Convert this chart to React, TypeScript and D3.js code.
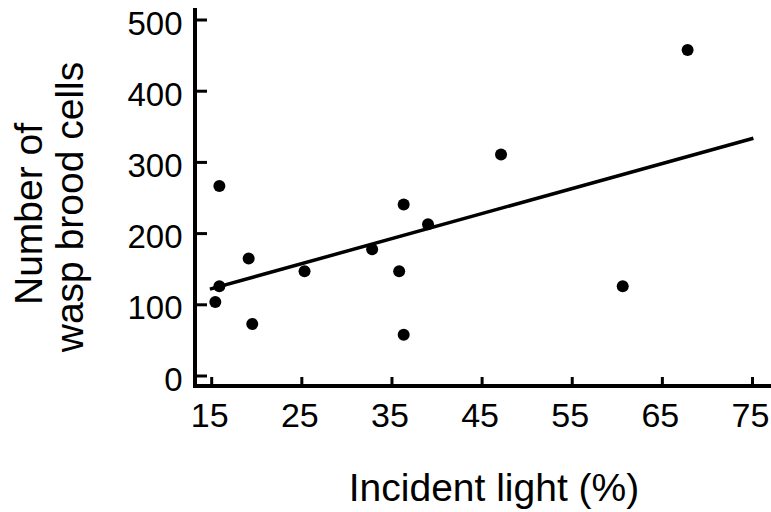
import * as d3 from "d3";

// incident light (%) and wasp brood cell counts, one per nest
const lightPct = [15.4, 15.85, 15.85, 19.1, 19.5, 25.3, 32.8, 35.8, 36.3, 36.3, 39.0, 47.1, 60.6, 67.8];
const broodCells = [104, 267, 126, 165, 73, 147, 178, 147, 241, 58, 213, 311, 126, 458];

// fitted regression line at its two ends
const trendX = [14.8, 75.1];
const trendY = [122, 334];

const xTicks = [15, 25, 35, 45, 55, 65, 75];
const yTicks = [0, 100, 200, 300, 400, 500];

const xTitle = "Incident light (%)";
const yTitle = ["Number of", "wasp brood cells"];

const width = 771;
const height = 512;
const font = "'Liberation Sans', Arial, Helvetica, sans-serif";

export default function App() {
  const x = d3.scaleLinear().domain([15, 75]).range([211.7, 752.5]);
  const y = d3.scaleLinear().domain([0, 500]).range([376, 20]);

  const axisX = 195; // vertical axis position
  const axisY = 386; // horizontal axis position

  const points = lightPct.map((v, i) => ({ x: v, y: broodCells[i] }));
  const trend = trendX.map((v, i) => [x(v), y(trendY[i])] as [number, number]);
  const line = d3.line();

  return (
    <svg
      width={width}
      height={height}
      style={{ position: "absolute", left: 0, top: 0, background: "#fff", fontFamily: font }}
    >
      {/* axes */}
      <line x1={axisX} x2={axisX} y1={8} y2={axisY + 2} stroke="#000" strokeWidth={4} />
      <line x1={axisX - 2} x2={width} y1={axisY} y2={axisY} stroke="#000" strokeWidth={4} />

      {yTicks.map((t) => (
        <g key={"y" + t}>
          <line x1={axisX} x2={axisX + 12} y1={y(t)} y2={y(t)} stroke="#000" strokeWidth={3} />
          <text
            x={182.5}
            y={y(t) + 3}
            textAnchor="end"
            dominantBaseline="central"
            fontSize={33}
            fill="#000"
          >
            {t}
          </text>
        </g>
      ))}

      {xTicks.map((t) => (
        <g key={"x" + t}>
          <line x1={x(t)} x2={x(t)} y1={axisY} y2={axisY - 9} stroke="#000" strokeWidth={3} />
          <text x={x(t) - 2} y={427} textAnchor="middle" fontSize={34} fill="#000">
            {t}
          </text>
        </g>
      ))}

      {/* regression line */}
      <path d={line(trend) || ""} fill="none" stroke="#000" strokeWidth={3.5} />

      {/* data points */}
      {points.map((p, i) => (
        <circle key={i} cx={x(p.x)} cy={y(p.y)} r={6} fill="#000" />
      ))}

      {/* axis titles */}
      <text x={494} y={501} textAnchor="middle" fontSize={39} fill="#000">
        {xTitle}
      </text>
      <text transform="translate(41.7,214) rotate(-90)" textAnchor="middle" fontSize={39} fill="#000">
        {yTitle[0]}
      </text>
      <text transform="translate(83.3,207) rotate(-90)" textAnchor="middle" fontSize={39} fill="#000">
        {yTitle[1]}
      </text>
    </svg>
  );
}
